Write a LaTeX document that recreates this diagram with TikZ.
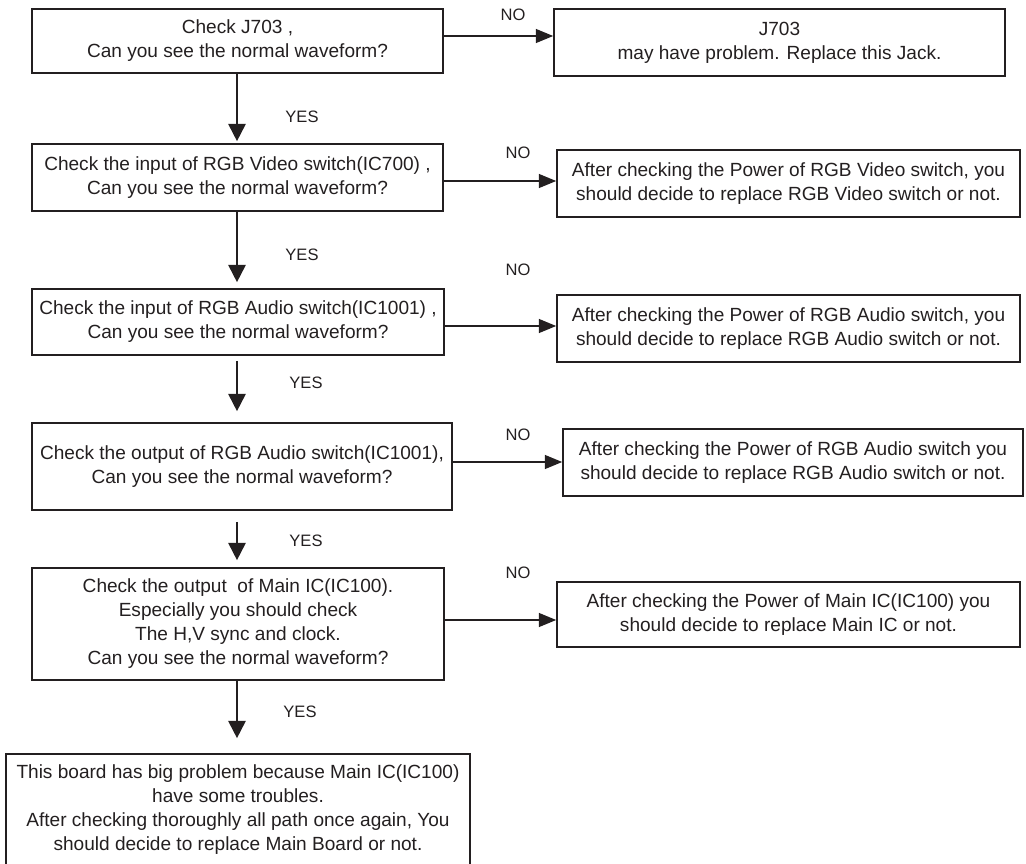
\documentclass[tikz,border=0pt]{standalone}
\usepackage{fontspec}
\setmainfont{Liberation Sans}
\usetikzlibrary{arrows.meta}
\definecolor{ink}{HTML}{231F20}
\begin{document}
\begin{tikzpicture}[x=0.75pt,y=-0.75pt,
  box/.style={draw=ink,line width=1.25pt,align=center,inner sep=0pt,
    font=\fontsize{14.3pt}{18pt}\selectfont,text=ink},
  lbl/.style={font=\fontsize{12.4pt}{14pt}\selectfont,text=ink,inner sep=0pt},
  down/.style={draw=ink,line width=1.4pt,-{Triangle[length=13pt,width=13pt]}},
  side/.style={draw=ink,line width=1pt,-{Triangle[length=13pt,width=10.5pt]}}]
\useasboundingbox (0,0) rectangle (1026,864);

% decision column
\node[box,minimum width=308.25pt,minimum height=48pt] (B1) at (237.5,41)
  {Check J703 ,\\Can you see the normal waveform?};
\node[box,minimum width=308.25pt,minimum height=50.25pt] (B2) at (237.5,177.5)
  {Check the input of RGB Video switch(IC700) ,\\Can you see the normal waveform?};
\node[box,minimum width=309pt,minimum height=49.5pt] (B3) at (238,322)
  {Check the input of RGB Audio switch(IC1001) ,\\Can you see the normal waveform?};
\node[box,minimum width=315pt,minimum height=65.25pt] (B4) at (242,466.5)
  {Check the output of RGB Audio switch(IC1001),\\Can you see the normal waveform?};
\node[box,minimum width=309pt,minimum height=84pt] (B5) at (238,624)
  {Check the output\ \ of Main IC(IC100).\\Especially you should check\\The H,V sync and clock.\\Can you see the normal waveform?};
\node[box,minimum width=348pt,minimum height=84pt] (B6) at (238,810)
  {This board has big problem because Main IC(IC100)\\have some troubles.\\After checking thoroughly all path once again, You\\should decide to replace Main Board or not.};

% action column
\node[box,minimum width=338.25pt,minimum height=50.25pt] (R1) at (779.5,42.5)
  {J703\\may have problem. Replace this Jack.};
\node[box,minimum width=347.25pt,minimum height=50.25pt] (R2) at (788.5,183.5)
  {After checking the Power of RGB Video switch, you\\should decide to replace RGB Video switch or not.};
\node[box,minimum width=347.25pt,minimum height=50.25pt] (R3) at (788.5,328.5)
  {After checking the Power of RGB Audio switch, you\\should decide to replace RGB Audio switch or not.};
\node[box,minimum width=345pt,minimum height=50.25pt] (R4) at (793,462.5)
  {After checking the Power of RGB Audio switch you\\should decide to replace RGB Audio switch or not.};
\node[box,minimum width=347.25pt,minimum height=48.75pt] (R5) at (788.5,614.5)
  {After checking the Power of Main IC(IC100) you\\should decide to replace Main IC or not.};

% YES branches
\coordinate (colx) at (237,0);
\draw[down,shorten >=1.5pt] (colx |- B1.south) -- (colx |- B2.north);
\draw[down,shorten >=4.5pt] (colx |- B2.south) -- (colx |- B3.north);
\draw[down,shorten <=3.75pt,shorten >=8.25pt] (colx |- B3.south) -- (colx |- B4.north);
\draw[down,shorten <=8.25pt,shorten >=5.25pt] (colx |- B4.south) -- (colx |- B5.north);
\draw[down,shorten >=11.25pt] (colx |- B5.south) -- (colx |- B6.north);

\node[lbl] (y1) at (302,117) {YES};
\node[lbl] (y2) at (302,255) {YES};
\node[lbl] (y3) at (306,383) {YES};
\node[lbl] (y4) at (306,541) {YES};
\node[lbl] (y5) at (300,712) {YES};

% NO branches
\draw[side] (B1.east |- 0,36) -- (R1.west |- 0,36);
\draw[side] (B2.east |- 0,181) -- (R2.west |- 0,181);
\draw[side] (B3.east |- 0,326) -- (R3.west |- 0,326);
\draw[side] (B4.east |- 0,462) -- (R4.west |- 0,462);
\draw[side] (B5.east |- 0,620) -- (R5.west |- 0,620);

\node[lbl] (n1) at (513,15) {NO};
\node[lbl] (n2) at (518,153) {NO};
\node[lbl] (n3) at (518,270) {NO};
\node[lbl] (n4) at (518,435) {NO};
\node[lbl] (n5) at (518,573) {NO};
\end{tikzpicture}
\end{document}
